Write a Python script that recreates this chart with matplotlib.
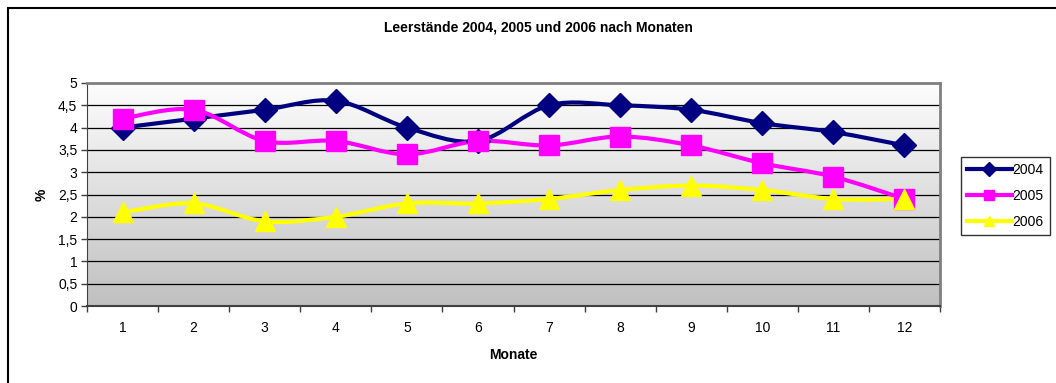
import numpy as np
import matplotlib.pyplot as plt
from matplotlib.path import Path
from matplotlib.patches import PathPatch, Rectangle
from matplotlib.lines import Line2D
from matplotlib.colors import LinearSegmentedColormap
from matplotlib.ticker import FuncFormatter, MultipleLocator

plt.rcParams['font.family'] = ['Liberation Sans', 'DejaVu Sans']

months = list(range(1, 13))
y2004 = [4.0, 4.2, 4.4, 4.6, 4.0, 3.7, 4.5, 4.5, 4.4, 4.1, 3.9, 3.6]
y2005 = [4.2, 4.4, 3.7, 3.7, 3.4, 3.7, 3.6, 3.8, 3.6, 3.2, 2.9, 2.4]
y2006 = [2.1, 2.3, 1.9, 2.0, 2.3, 2.3, 2.4, 2.6, 2.7, 2.6, 2.4, 2.4]
labels = ["2004", "2005", "2006"]


def smooth_path(x, y):
    # Excel-like smoothed line: bezier segments with catmull-rom control points
    pts = np.column_stack([x, y]).astype(float)
    n = len(pts)
    verts = [pts[0]]
    codes = [Path.MOVETO]
    for i in range(n - 1):
        p0 = pts[max(i - 1, 0)]
        p1 = pts[i]
        p2 = pts[i + 1]
        p3 = pts[min(i + 2, n - 1)]
        c1 = p1 + (p2 - p0) / 6
        c2 = p2 - (p3 - p1) / 6
        verts += [c1, c2, p2]
        codes += [Path.CURVE4] * 3
    return Path(verts, codes)


fig = plt.figure(figsize=(10.56, 3.83), dpi=100)
W, H = 1056, 383
ax = fig.add_axes([87 / W, 1 - 306 / H, (940 - 87) / W, (306 - 83) / H])

# outer chart border
fig.patches.append(Rectangle((8 / W, -0.1), 1.2, 1 - 8 / H + 0.1, transform=fig.transFigure,
                             fill=False, edgecolor='black', lw=1.5))

# gradient background, light at top
grad = np.linspace(0, 1, 256).reshape(-1, 1)
cmap = LinearSegmentedColormap.from_list('g', ['#fdfdfd', '#c0c0c0'])
ax.imshow(grad, cmap=cmap, extent=[0.5, 12.5, 0, 5], origin='upper', aspect='auto', zorder=0)

ax.set_xlim(0.5, 12.5)
ax.set_ylim(0, 5)
ax.yaxis.set_major_locator(MultipleLocator(0.5))
ax.yaxis.set_major_formatter(FuncFormatter(lambda v, p: f"{v:g}".replace('.', ',')))
ax.grid(axis='y', color='black', lw=0.9, zorder=1)
ax.set_xticks(months)
ax.set_xticks(np.arange(0.5, 13, 1), minor=True)
ax.tick_params(axis='x', which='major', length=0, pad=11, labelsize=10)
ax.tick_params(axis='x', which='minor', length=4, width=1, color='#404040')
ax.tick_params(axis='y', length=4, width=1, color='#404040', labelsize=10, pad=3)

for s in ['top', 'right']:
    ax.spines[s].set_color('#808080')
    ax.spines[s].set_linewidth(2)
ax.spines['left'].set_color('#404040')
ax.spines['bottom'].set_color('#404040')
ax.spines['bottom'].set_linewidth(1.5)

series = [
    (y2004, '#000080', 'D', 12),
    (y2005, '#ff00ff', 's', 14),
    (y2006, '#ffff00', '^', 15),
]
handles = []
for (vals, col, mk, ms), lab in zip(series, labels):
    ax.add_patch(PathPatch(smooth_path(months, vals), fill=False, edgecolor=col,
                           lw=3, zorder=3, capstyle='round'))
    ax.plot(months, vals, linestyle='none', marker=mk, markersize=ms, color=col, zorder=4)
    handles.append(Line2D([], [], color=col, lw=3, marker=mk, markersize=7, label=lab))

fig.text(538 / W, 1 - 28 / H, "Leerstände 2004, 2005 und 2006 nach Monaten",
         fontsize=10, fontweight='bold', ha='center', va='center')
ax.set_xlabel("Monate", fontsize=10, fontweight='bold', labelpad=9)
ax.set_ylabel("%", fontsize=10, fontweight='bold', labelpad=7)

leg = fig.legend(handles=handles, loc='upper left', bbox_to_anchor=(961 / W, 1 - 157 / H),
                 frameon=True, fancybox=False, edgecolor='black', fontsize=10,
                 handlelength=3.2, handletextpad=0.05, borderpad=0.45, labelspacing=0.85,
                 borderaxespad=0)
leg.get_frame().set_linewidth(1)

fig.savefig("out.png", dpi=100)
